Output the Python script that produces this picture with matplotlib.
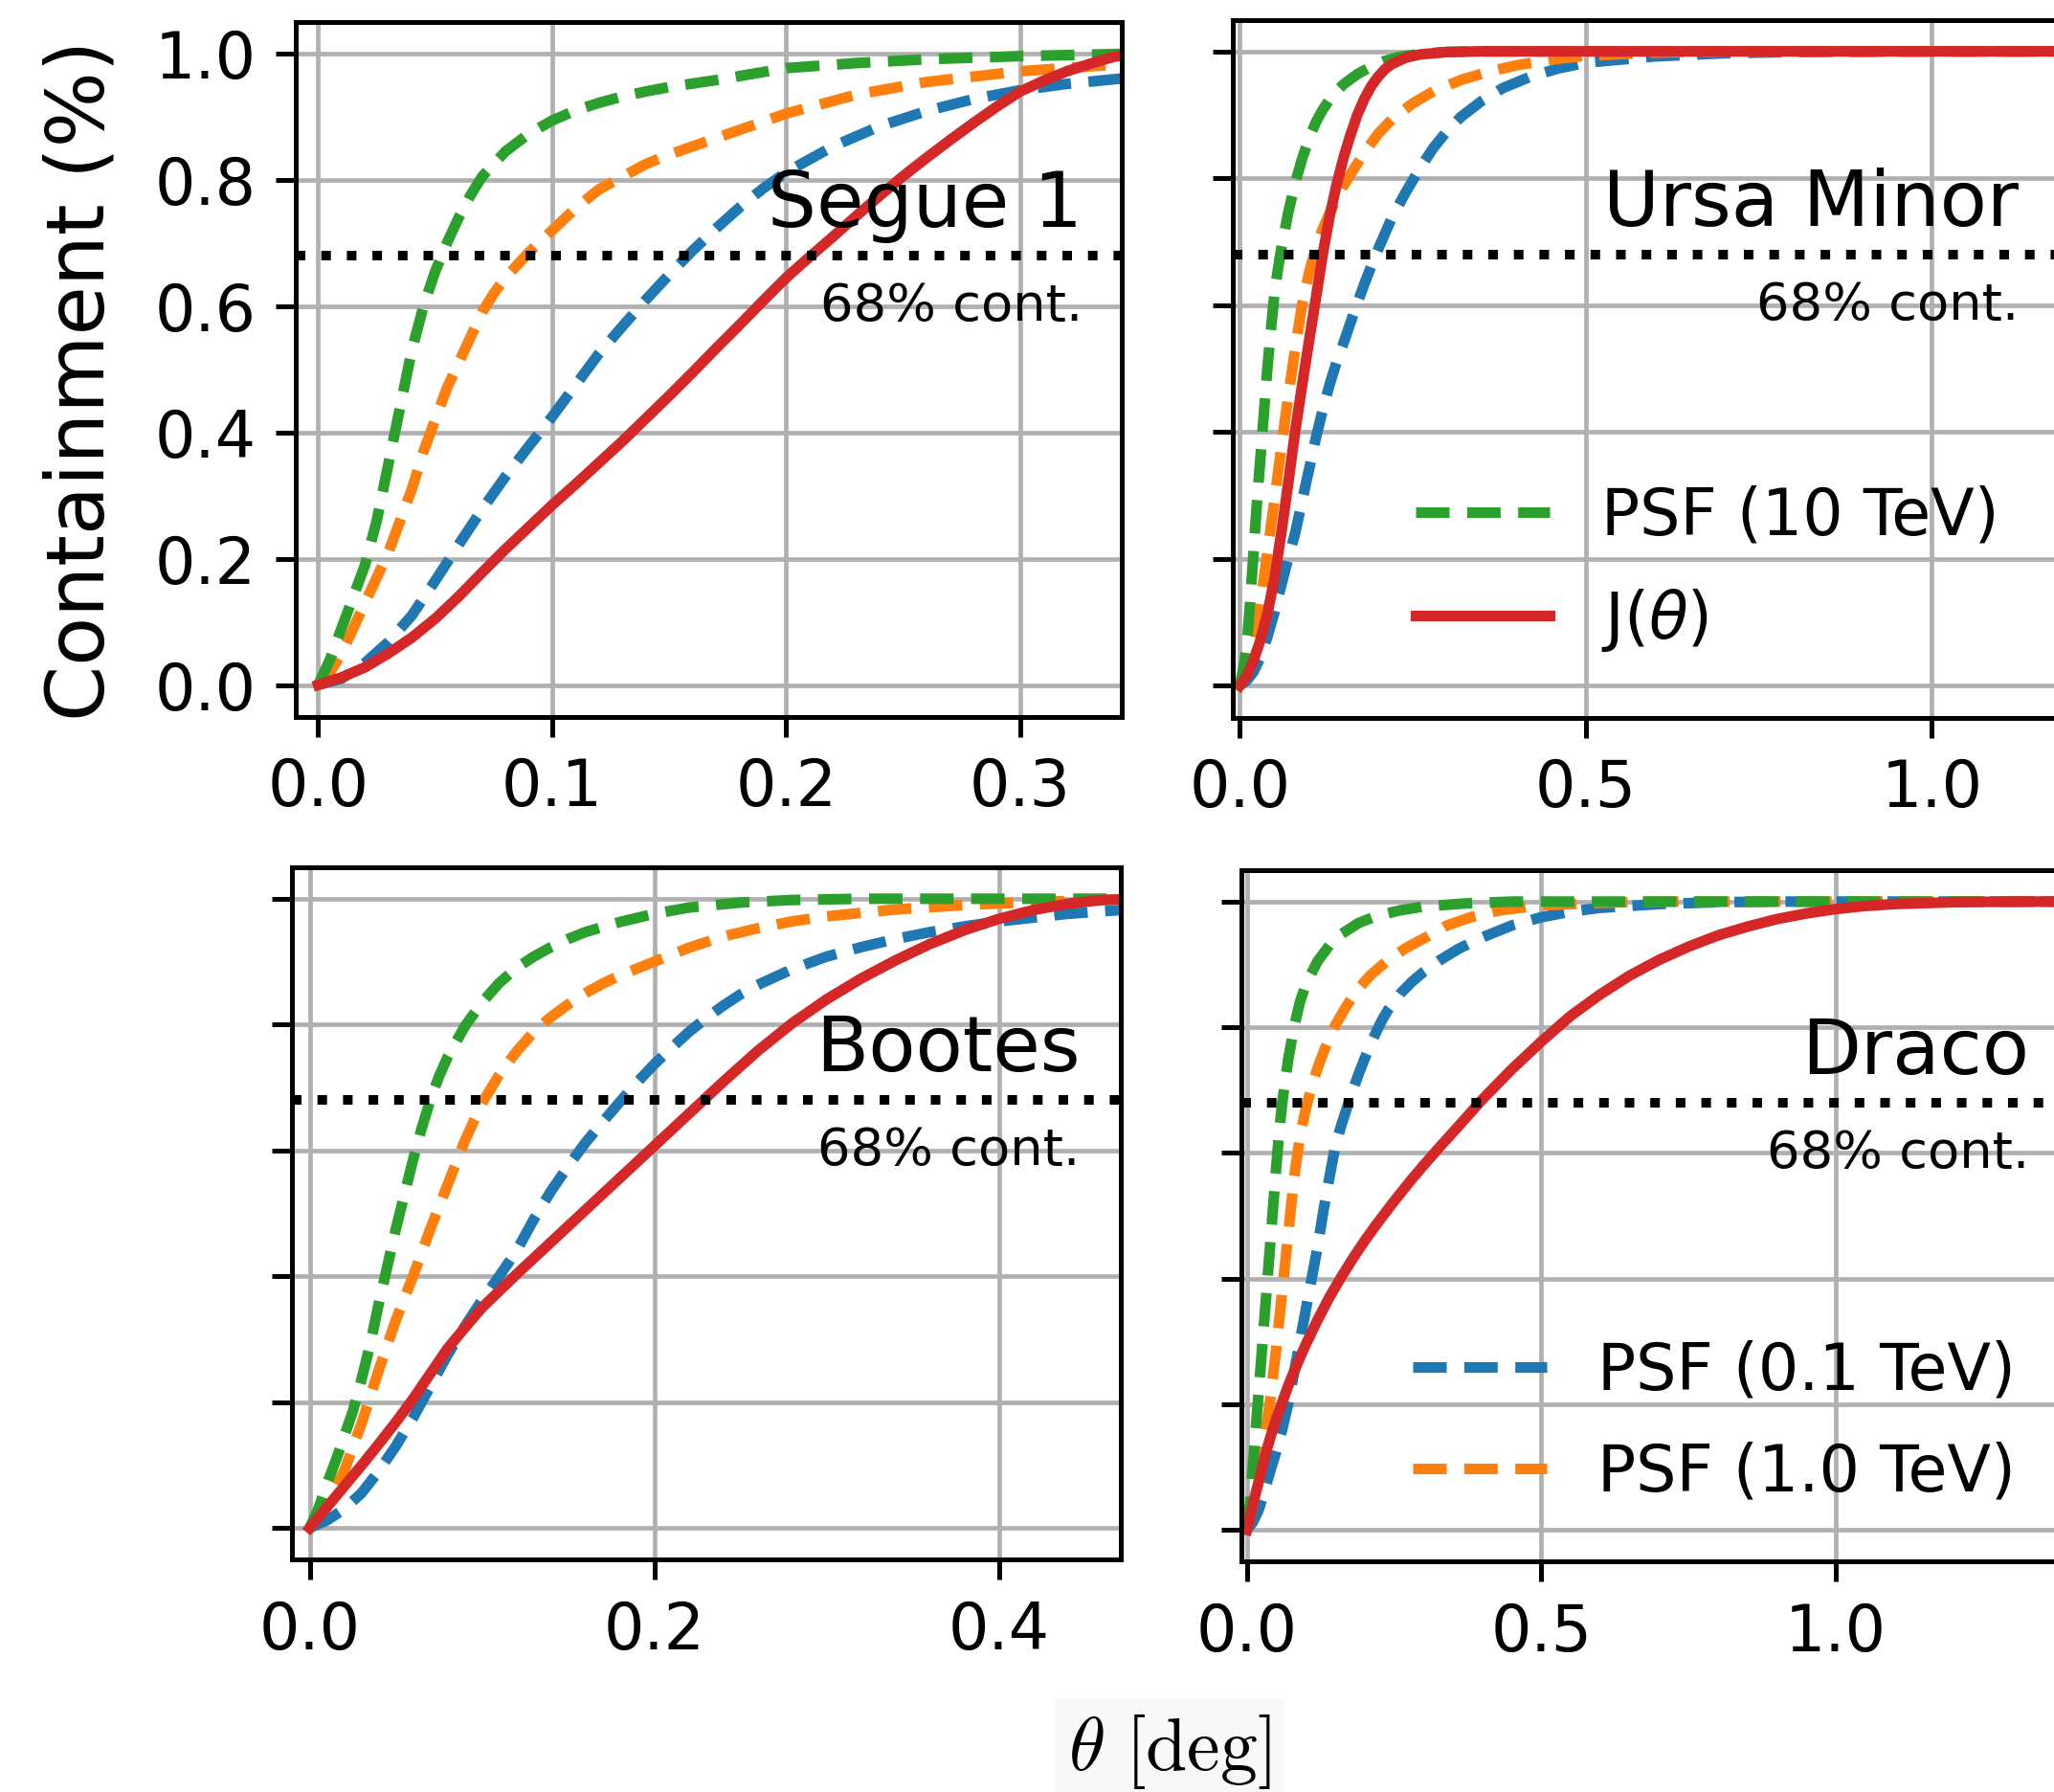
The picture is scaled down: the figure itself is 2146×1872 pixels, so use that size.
import matplotlib
matplotlib.use("Agg")
import matplotlib.pyplot as plt
from matplotlib.lines import Line2D

# ---- values (theta in deg, containment fraction) ----
# Segue 1
seg_th_10 = [0, 0.005, 0.01, 0.015, 0.02, 0.025, 0.03, 0.035, 0.04, 0.045, 0.05, 0.055, 0.06, 0.065, 0.07,
             0.08, 0.09, 0.1, 0.11, 0.12, 0.13, 0.14, 0.15, 0.17, 0.2, 0.23, 0.26, 0.3, 0.35]
seg_y_10 = [0, 0.04, 0.09, 0.14, 0.19, 0.26, 0.35, 0.44, 0.53, 0.6, 0.655, 0.7, 0.74, 0.775, 0.805,
            0.845, 0.873, 0.894, 0.91, 0.922, 0.932, 0.94, 0.947, 0.958, 0.977, 0.985, 0.991, 0.996, 1.0]
seg_th_1 = [0, 0.005, 0.01, 0.015, 0.02, 0.025, 0.03, 0.035, 0.04, 0.045, 0.05, 0.055, 0.06, 0.065, 0.07,
            0.075, 0.08, 0.085, 0.09, 0.1, 0.11, 0.12, 0.13, 0.14, 0.15, 0.17, 0.2, 0.23, 0.26, 0.3, 0.35]
seg_y_1 = [0, 0.02, 0.05, 0.09, 0.13, 0.17, 0.21, 0.26, 0.31, 0.37, 0.42, 0.47, 0.51, 0.55, 0.59,
           0.62, 0.645, 0.665, 0.685, 0.72, 0.755, 0.785, 0.805, 0.825, 0.84, 0.866, 0.905, 0.935, 0.955, 0.972, 0.985]
seg_th_01 = [0, 0.01, 0.02, 0.03, 0.04, 0.05, 0.06, 0.07, 0.08, 0.09, 0.1, 0.11, 0.12, 0.13, 0.14, 0.15,
             0.16, 0.17, 0.18, 0.19, 0.2, 0.22, 0.24, 0.26, 0.28, 0.3, 0.32, 0.35]
seg_y_01 = [0, 0.01, 0.035, 0.068, 0.11, 0.165, 0.222, 0.278, 0.33, 0.378, 0.425, 0.475, 0.525, 0.568, 0.61, 0.65,
            0.688, 0.723, 0.756, 0.786, 0.812, 0.853, 0.885, 0.909, 0.928, 0.942, 0.952, 0.963]
seg_th_j = [0, 0.01, 0.02, 0.03, 0.04, 0.05, 0.06, 0.07, 0.08, 0.09, 0.1, 0.11, 0.12, 0.13, 0.14, 0.15, 0.16,
            0.17, 0.18, 0.19, 0.2, 0.21, 0.22, 0.23, 0.24, 0.25, 0.26, 0.27, 0.28, 0.29, 0.3, 0.31, 0.32,
            0.33, 0.34, 0.35]
seg_y_j = [0, 0.012, 0.028, 0.05, 0.075, 0.105, 0.14, 0.178, 0.215, 0.25, 0.285, 0.318, 0.352, 0.386, 0.422,
           0.458, 0.495, 0.533, 0.57, 0.608, 0.645, 0.678, 0.71, 0.743, 0.775, 0.806, 0.835, 0.863, 0.89, 0.916,
           0.94, 0.957, 0.972, 0.984, 0.995, 1.0]

# Ursa Minor
umi_th_10 = [0, 0.005, 0.01, 0.015, 0.02, 0.025, 0.03, 0.035, 0.04, 0.045, 0.05, 0.055, 0.06, 0.07, 0.08,
             0.09, 0.1, 0.11, 0.12, 0.13, 0.14, 0.15, 0.17, 0.19, 0.21, 0.23, 0.26, 0.3, 0.35, 1.2]
umi_y_10 = [0, 0.025, 0.06, 0.13, 0.21, 0.29, 0.36, 0.43, 0.5, 0.56, 0.615, 0.655, 0.688, 0.745, 0.792,
            0.83, 0.862, 0.888, 0.908, 0.924, 0.937, 0.948, 0.964, 0.976, 0.985, 0.991, 0.996, 0.999, 1.0, 1.0]
umi_th_1 = [0, 0.01, 0.02, 0.03, 0.04, 0.05, 0.06, 0.07, 0.08, 0.09, 0.1, 0.11, 0.12, 0.13, 0.14, 0.15,
            0.16, 0.18, 0.2, 0.22, 0.25, 0.28, 0.32, 0.36, 0.4, 0.45, 0.5, 0.6, 0.7, 1.2]
umi_y_1 = [0, 0.025, 0.065, 0.13, 0.21, 0.29, 0.375, 0.455, 0.53, 0.6, 0.65, 0.69, 0.72, 0.745, 0.768, 0.788,
           0.806, 0.84, 0.87, 0.893, 0.918, 0.937, 0.955, 0.968, 0.978, 0.987, 0.993, 0.998, 1.0, 1.0]
umi_th_01 = [0, 0.01, 0.02, 0.03, 0.04, 0.05, 0.06, 0.07, 0.08, 0.09, 0.1, 0.11, 0.12, 0.13, 0.14, 0.15,
             0.16, 0.17, 0.18, 0.19, 0.2, 0.22, 0.24, 0.26, 0.28, 0.3, 0.32, 0.35, 0.38, 0.42, 0.46, 0.5,
             0.6, 0.7, 0.8, 1.0, 1.2]
umi_y_01 = [0, 0.008, 0.022, 0.045, 0.077, 0.115, 0.158, 0.2, 0.24, 0.29, 0.34, 0.39, 0.435, 0.475, 0.51, 0.54,
            0.572, 0.603, 0.633, 0.661, 0.688, 0.738, 0.778, 0.815, 0.848, 0.875, 0.897, 0.922, 0.942, 0.96,
            0.973, 0.982, 0.992, 0.997, 0.999, 1.0, 1.0]
umi_th_j = [0, 0.01, 0.02, 0.03, 0.04, 0.05, 0.06, 0.07, 0.08, 0.09, 0.1, 0.11, 0.12, 0.13, 0.14, 0.15,
            0.16, 0.17, 0.18, 0.19, 0.2, 0.21, 0.22, 0.24, 0.26, 0.3, 0.35, 1.2]
umi_y_j = [0, 0.015, 0.04, 0.072, 0.113, 0.168, 0.24, 0.318, 0.4, 0.472, 0.542, 0.61, 0.68, 0.74, 0.79, 0.832,
           0.868, 0.9, 0.925, 0.945, 0.96, 0.972, 0.98, 0.99, 0.995, 0.999, 1.0, 1.0]

# Bootes
boo_th_10 = [0, 0.005, 0.01, 0.015, 0.02, 0.025, 0.03, 0.035, 0.04, 0.045, 0.05, 0.055, 0.06, 0.065, 0.07,
             0.075, 0.08, 0.09, 0.1, 0.11, 0.12, 0.13, 0.14, 0.15, 0.16, 0.18, 0.2, 0.22, 0.25, 0.28, 0.32, 0.48]
boo_y_10 = [0, 0.03, 0.07, 0.106, 0.145, 0.185, 0.235, 0.29, 0.355, 0.415, 0.475, 0.53, 0.585, 0.635, 0.68,
            0.717, 0.748, 0.797, 0.835, 0.866, 0.89, 0.908, 0.923, 0.936, 0.947, 0.963, 0.976, 0.986, 0.994,
            0.998, 1.0, 1.0]
boo_th_1 = [0, 0.01, 0.02, 0.03, 0.04, 0.05, 0.06, 0.07, 0.08, 0.09, 0.1, 0.11, 0.12, 0.13, 0.14, 0.15,
            0.16, 0.17, 0.18, 0.2, 0.22, 0.24, 0.26, 0.28, 0.3, 0.34, 0.38, 0.42, 0.48]
boo_y_1 = [0, 0.04, 0.09, 0.165, 0.25, 0.33, 0.4, 0.475, 0.545, 0.615, 0.675, 0.72, 0.757, 0.788, 0.812, 0.832,
           0.85, 0.865, 0.878, 0.9, 0.922, 0.94, 0.953, 0.964, 0.972, 0.983, 0.99, 0.995, 0.999]
boo_th_01 = [0, 0.01, 0.02, 0.03, 0.04, 0.05, 0.06, 0.07, 0.08, 0.09, 0.1, 0.11, 0.12, 0.13, 0.14, 0.15,
             0.16, 0.17, 0.18, 0.19, 0.2, 0.21, 0.22, 0.23, 0.24, 0.25, 0.26, 0.28, 0.3, 0.32, 0.34, 0.36,
             0.38, 0.4, 0.44, 0.48]
boo_y_01 = [0, 0.012, 0.03, 0.055, 0.09, 0.13, 0.175, 0.225, 0.275, 0.32, 0.362, 0.4, 0.44, 0.49, 0.535, 0.575,
            0.612, 0.645, 0.677, 0.708, 0.737, 0.763, 0.788, 0.81, 0.83, 0.848, 0.863, 0.888, 0.908, 0.923,
            0.936, 0.947, 0.956, 0.964, 0.976, 0.984]
boo_th_j = [0, 0.01, 0.02, 0.03, 0.04, 0.05, 0.06, 0.07, 0.08, 0.09, 0.1, 0.12, 0.14, 0.16, 0.18, 0.2,
            0.22, 0.24, 0.26, 0.28, 0.3, 0.32, 0.34, 0.36, 0.38, 0.4, 0.42, 0.44, 0.46, 0.48]
boo_y_j = [0, 0.033, 0.066, 0.099, 0.133, 0.168, 0.205, 0.245, 0.285, 0.318, 0.35, 0.403, 0.454, 0.505, 0.556,
           0.607, 0.658, 0.709, 0.758, 0.802, 0.84, 0.873, 0.902, 0.928, 0.95, 0.968, 0.982, 0.992, 0.998, 1.0]

# Draco
dra_th_10 = [0, 0.005, 0.01, 0.015, 0.02, 0.025, 0.03, 0.035, 0.04, 0.045, 0.05, 0.055, 0.06, 0.07, 0.08,
             0.09, 0.1, 0.12, 0.14, 0.16, 0.19, 0.22, 0.26, 0.3, 0.37, 0.45, 1.45]
dra_y_10 = [0, 0.04, 0.1, 0.16, 0.22, 0.28, 0.34, 0.4, 0.46, 0.52, 0.58, 0.635, 0.68, 0.748, 0.8,
            0.84, 0.868, 0.905, 0.93, 0.948, 0.966, 0.977, 0.986, 0.992, 0.997, 1.0, 1.0]
dra_th_1 = [0, 0.01, 0.02, 0.03, 0.04, 0.05, 0.06, 0.07, 0.08, 0.09, 0.1, 0.11, 0.12, 0.13, 0.14, 0.15,
            0.17, 0.19, 0.21, 0.24, 0.27, 0.3, 0.34, 0.38, 0.43, 0.5, 0.6, 0.7, 1.45]
dra_y_1 = [0, 0.04, 0.09, 0.145, 0.21, 0.29, 0.38, 0.47, 0.56, 0.625, 0.67, 0.705, 0.735, 0.76, 0.783, 0.803,
           0.835, 0.862, 0.883, 0.907, 0.926, 0.941, 0.962, 0.975, 0.986, 0.994, 0.998, 1.0, 1.0]
dra_th_01 = [0, 0.01, 0.02, 0.03, 0.04, 0.05, 0.06, 0.07, 0.08, 0.09, 0.1, 0.11, 0.12, 0.13, 0.14, 0.15,
             0.16, 0.17, 0.18, 0.19, 0.2, 0.21, 0.22, 0.23, 0.24, 0.26, 0.28, 0.3, 0.33, 0.36, 0.4, 0.45,
             0.5, 0.55, 0.6, 0.7, 0.8, 0.9, 1.45]
dra_y_01 = [0, 0.012, 0.032, 0.062, 0.095, 0.125, 0.16, 0.2, 0.25, 0.3, 0.35, 0.4, 0.45, 0.508, 0.56, 0.61,
            0.643, 0.672, 0.7, 0.726, 0.75, 0.772, 0.793, 0.812, 0.828, 0.853, 0.872, 0.888, 0.908, 0.925,
            0.943, 0.962, 0.975, 0.984, 0.99, 0.996, 0.999, 1.0, 1.0]
dra_th_j = [0, 0.01, 0.02, 0.03, 0.04, 0.05, 0.06, 0.07, 0.08, 0.09, 0.1, 0.12, 0.14, 0.16, 0.18, 0.2,
            0.22, 0.25, 0.28, 0.3, 0.33, 0.36, 0.4, 0.45, 0.5, 0.55, 0.6, 0.65, 0.7, 0.75, 0.8, 0.85,
            0.9, 0.95, 1.0, 1.05, 1.1, 1.2, 1.3, 1.45]
dra_y_j = [0, 0.04, 0.077, 0.115, 0.148, 0.177, 0.203, 0.229, 0.252, 0.274, 0.295, 0.334, 0.37, 0.402, 0.432,
           0.46, 0.486, 0.523, 0.558, 0.58, 0.612, 0.643, 0.685, 0.733, 0.777, 0.818, 0.852, 0.882, 0.907,
           0.928, 0.946, 0.96, 0.972, 0.981, 0.988, 0.993, 0.996, 0.999, 1.0, 1.0]

names = ["Segue 1", "Ursa Minor", "Bootes", "Draco"]
name_x = [0.953, 0.947, 0.951, 0.947]
xticks = [[0, 0.1, 0.2, 0.3], [0, 0.5, 1.0], [0, 0.2, 0.4], [0, 0.5, 1.0]]
yticks = [0, 0.2, 0.4, 0.6, 0.8, 1.0]
cont_level = 0.68

curves = [
    [(seg_th_01, seg_y_01), (seg_th_1, seg_y_1), (seg_th_10, seg_y_10), (seg_th_j, seg_y_j)],
    [(umi_th_01, umi_y_01), (umi_th_1, umi_y_1), (umi_th_10, umi_y_10), (umi_th_j, umi_y_j)],
    [(boo_th_01, boo_y_01), (boo_th_1, boo_y_1), (boo_th_10, boo_y_10), (boo_th_j, boo_y_j)],
    [(dra_th_01, dra_y_01), (dra_th_1, dra_y_1), (dra_th_10, dra_y_10), (dra_th_j, dra_y_j)],
]
labels = ["PSF (0.1 TeV)", "PSF (1.0 TeV)", "PSF (10 TeV)", r"J($\theta$)"]
colors = ["#1f77b4", "#ff7f0e", "#2ca02c", "#d62728"]
dash = (0, (3.15, 1.65))
styles = [dash, dash, dash, "-"]
LW = 4.0

plt.rcParams.update({
    "font.size": 24,
    "xtick.labelsize": 24,
    "ytick.labelsize": 24,
    "legend.fontsize": 24,
    "axes.linewidth": 1.8,
    "xtick.major.width": 1.8,
    "ytick.major.width": 1.8,
    "xtick.major.size": 7.5,
    "ytick.major.size": 7.5,
    "xtick.major.pad": 7.5,
    "ytick.major.pad": 7.5,
    "grid.linewidth": 1.7,
    "grid.color": "#b0b0b0",
})

W, H = 2146, 1872
fig = plt.figure(figsize=(W / 200, H / 200), dpi=200)

# axes boxes in pixels: left, top, right, bottom
boxes = [(309, 23, 1172, 748.5), (1288, 20.5, 2155, 749.5),
         (305, 906, 1171, 1629), (1297, 909, 2166, 1631)]
xlims = [(-0.0096, 0.3434), (-0.00996, 1.189), (-0.0103, 0.4708), (-0.0094, 1.404)]

axes = []
for i, (l, t, r, b) in enumerate(boxes):
    ax = fig.add_axes([l / W, 1 - b / H, (r - l) / W, (b - t) / H])
    ax.grid(True)
    for (th, y), c, ls in zip(curves[i], colors, styles):
        ax.plot(th, y, color=c, ls=ls, lw=LW, solid_joinstyle="round")
    ax.axhline(cont_level, color="k", ls=(0, (1, 1.67)), lw=3.6)
    ax.set_xlim(*xlims[i])
    ax.set_ylim(-0.05, 1.05)
    ax.set_xticks(xticks[i])
    ax.set_yticks(yticks)
    if i != 0:
        ax.tick_params(labelleft=False)
    ax.text(name_x[i], 0.705, names[i], transform=ax.transAxes, ha="right",
            va="baseline", fontsize=29)
    ax.text(name_x[i], 0.57, "68% cont.", transform=ax.transAxes, ha="right",
            va="baseline", fontsize=19.6)
    axes.append(ax)

def handles(idx):
    return [Line2D([], [], color=colors[k], ls=styles[k], lw=LW) for k in idx]

for ax, idx, pad in [(axes[1], [2, 3], 0.6), (axes[3], [0, 1], 0.5)]:
    ax.legend(handles(idx), [labels[k] for k in idx], loc="lower right",
              frameon=False, handlelength=2.1, handletextpad=0.8,
              labelspacing=0.6, borderaxespad=pad)

fig.text(85 / W, 1 - 397 / H, "Containment (%)", rotation=90, fontsize=30,
         ha="center", va="center")
fig.text(1222 / W, 1 - 1830 / H, r"$\theta\ [\mathrm{deg}]$", math_fontfamily="cm",
         fontsize=28, ha="center", va="center",
         bbox=dict(facecolor="#f8f8f8", edgecolor="none", pad=5))

fig.savefig("out.png", dpi=200)
